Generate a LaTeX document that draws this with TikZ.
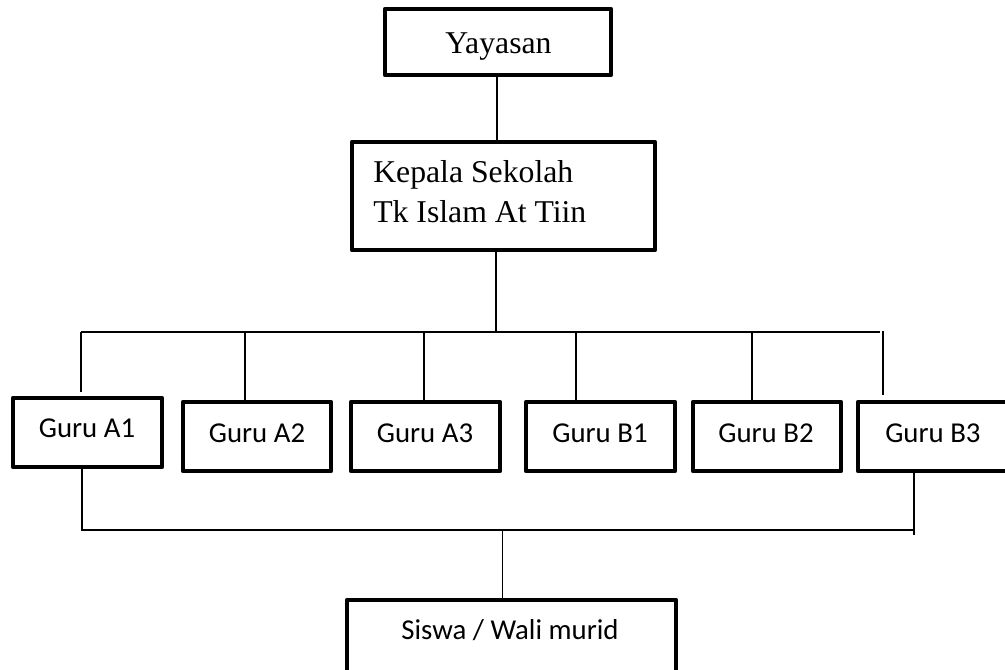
\documentclass[tikz,border=0pt]{standalone}
\usepackage{fontspec}
\setmainfont{Liberation Serif}
\newfontfamily\calfont{Carlito}
\usetikzlibrary{fit}
\begin{document}
\begin{tikzpicture}[x=0.75pt,y=-0.75pt,
  box/.style={draw, line width=3.2pt, line join=round, inner sep=0pt},
  conn/.style={line width=1.3pt},
  serift/.style={font=\fontsize{23.8}{28}\selectfont, inner sep=0pt, anchor=base},
  sanst/.style={font=\calfont\fontsize{21.6}{26}\selectfont, inner sep=0pt, anchor=base}]
\useasboundingbox (0,0) rectangle (1005,670);
\fill[white] (0,0) rectangle (1005,670);
\clip (0,0) rectangle (1005,670);

% boxes
\node[box, fit={(385,9) (611,75)}] (yay) {};
\node[box, fit={(352,142) (655,250)}] (kep) {};
\node[box, fit={(13,398) (162,467)}] (a1) {};
\node[box, fit={(183,402) (331,471)}] (a2) {};
\node[box, fit={(351,402) (500,471)}] (a3) {};
\node[box, fit={(526,402) (675,471)}] (b1) {};
\node[box, fit={(693,402) (841,471)}] (b2) {};
\node[box, fit={(858,402) (1040,471)}] (b3) {};
\node[box, fit={(347,600) (676,720)}] (sis) {};

% texts
\node[serift] (yayt) at (498.5,54) {Yayasan};
\node[serift, anchor=base west] (kept1) at (373,183) {Kepala Sekolah};
\node[serift, anchor=base west] (kept2) at (373,223) {Tk Islam At Tiin};
\node[sanst] (a1t) at (87,437) {Guru A1};
\node[sanst] (a2t) at (257,442) {Guru A2};
\node[sanst] (a3t) at (425,442) {Guru A3};
\node[sanst] (b1t) at (600,442) {Guru B1};
\node[sanst] (b2t) at (766,442) {Guru B2};
\node[sanst, anchor=base west] (b3t) at (885,442) {Guru B3};
\node[sanst] (sist) at (510,639) {Siswa / Wali murid};

% coordinates for the buses
\coordinate (busL) at (81,332);
\coordinate (busR) at (880,332);
\coordinate (bk) at (496,332);
\coordinate (d1) at (81,392);
\coordinate (d2) at (245,332);
\coordinate (d3) at (424,332);
\coordinate (d4) at (576,332);
\coordinate (d5) at (752,332);
\coordinate (d6) at (883,331);
\coordinate (d6e) at (883,395);
\coordinate (lowL) at (82,530);
\coordinate (lowR) at (914,530);
\coordinate (lowRe) at (914,535);
\coordinate (ls) at (502.5,530);

% connectors
\draw[conn] (yay.south -| 497,0) -- (kep.north -| 497,0);
\draw[conn] (kep.south -| bk) -- (bk);
\draw[conn] (busL) -- (busR);
\draw[conn] (busL) -- (d1);
\draw[conn] (d2) -- (d2 |- a2.north);
\draw[conn] (d3) -- (d3 |- a3.north);
\draw[conn] (d4) -- (d4 |- b1.north);
\draw[conn] (d5) -- (d5 |- b2.north);
\draw[conn] (d6) -- (d6e);
\draw[conn] (a1.south -| lowL) -- (lowL) -- (lowR);
\draw[conn] (b3.south -| lowR) -- (lowRe);
\draw[conn] (ls) -- (ls |- sis.north);
\end{tikzpicture}
\end{document}
